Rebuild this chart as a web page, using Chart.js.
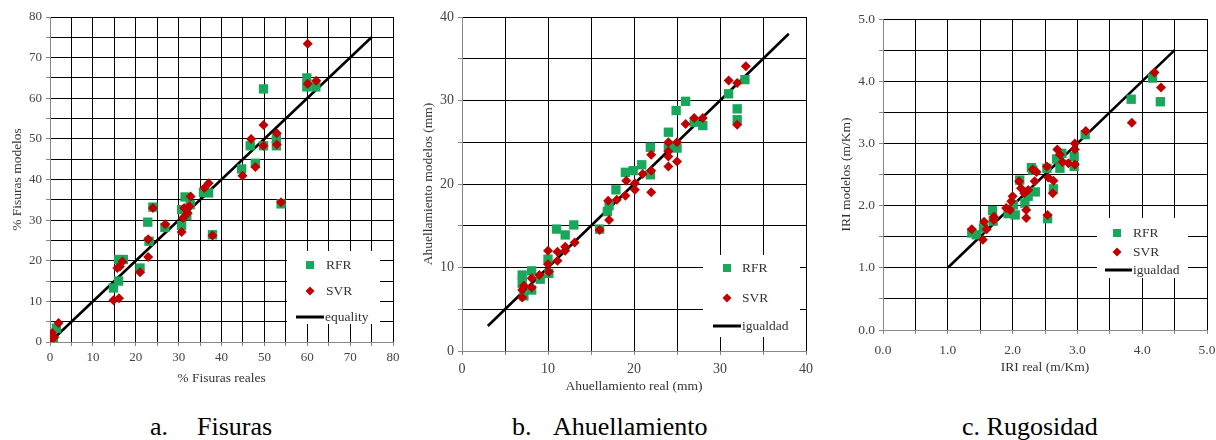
<!DOCTYPE html>
<html>
<head>
<meta charset="utf-8">
<script src="https://cdn.jsdelivr.net/npm/chart.js@4.4.0/dist/chart.umd.min.js"></script>
<style>
body { margin: 0; background: #fff; width: 1216px; height: 440px; position: relative; overflow: hidden; font-family: "Liberation Serif", serif; }
.box { position: absolute; top: 0; }
.cap { position: absolute; top: 414px; font-size: 26px; line-height: 26px; color: #000; white-space: pre; }
</style>
</head>
<body>
<div class="box" style="left:0px"><canvas id="fis" width="410" height="400"></canvas></div>
<div class="box" style="left:410px"><canvas id="ahu" width="410" height="400"></canvas></div>
<div class="box" style="left:820px"><canvas id="iri" width="396" height="400"></canvas></div>
<span class="cap" style="left:150px">a.</span><span class="cap" style="left:197px">Fisuras</span>
<span class="cap" style="left:512px">b.</span><span class="cap" style="left:553px">Ahuellamiento</span>
<span class="cap" style="left:962px">c. Rugosidad</span>
<script>
var green = '#19a75b'
var red = '#c00000'

// a. Fisuras (%)
var fisRfrX = [0, 0.3, 0.8, 1.5, 14.8, 16, 16, 17.1, 21, 22.8, 23.1, 24, 26.8, 30.7, 30.7, 31.5, 31.9, 32.7, 35.8, 37, 37.9, 44.7, 46.7, 47.9, 49.8, 49.8, 52.8, 52.8, 53.9, 59.9, 59.9, 62]
var fisRfrY = [0, 0.8, 0.2, 3.4, 13.3, 15, 20.3, 20.3, 18.2, 29.5, 24.8, 33.2, 28.2, 28.7, 32.6, 35.7, 31.1, 33.8, 36.8, 36.7, 26.4, 42.6, 48.3, 44, 48.3, 62.3, 48.3, 50, 34, 65, 62.8, 62.8]
var fisSvrX = [0, 0, 0.2, 0.5, 1, 2, 14.8, 16.1, 15.7, 16.3, 16.9, 21, 22.9, 22.9, 24, 26.9, 30.7, 31, 31.3, 32.1, 32.5, 32.8, 36, 37, 37.9, 44.9, 46.9, 47.9, 49.8, 49.8, 52.9, 52.9, 53.9, 60.1, 60.1, 62.1]
var fisSvrY = [0.3, 1.8, 1, 2.2, 1.2, 4.7, 10.3, 10.8, 18.2, 18.6, 19.8, 17.2, 20.9, 25.3, 33, 29, 27.1, 30.5, 33, 31.7, 33.4, 35.8, 37.9, 39.1, 26.2, 40.9, 50, 43.1, 53.4, 48.3, 51.4, 48.6, 34.4, 73.4, 63.6, 64.3]
var fisEq = [1, 75]

// b. Ahuellamiento (mm)
var ahuRfrX = [7, 7, 7.2, 8.1, 8.1, 9.1, 10, 10.1, 11, 12, 13, 16, 16.9, 17.1, 17.9, 19, 19.9, 20.9, 21.9, 21.9, 24, 24, 24.9, 25, 26, 27, 28, 31, 32, 32, 32.9]
var ahuRfrY = [9.1, 8.1, 6.6, 9.6, 7.3, 8.6, 11, 9.3, 14.6, 13.9, 15.1, 14.6, 16.7, 17.4, 19.3, 21.4, 21.6, 22.3, 24.4, 21.1, 26.2, 24.5, 28.8, 24.3, 29.9, 27.4, 27, 30.8, 29, 27.7, 32.5]
var ahuSvrX = [7, 7, 7.2, 8.1, 8.1, 9, 10, 10, 10.1, 11.1, 11.1, 12, 12, 13.1, 16, 17, 17.1, 18, 19, 19.1, 20.1, 20.1, 21, 22, 22, 22, 24, 24, 24, 24, 25, 25, 26, 27, 28, 31, 32, 32, 33]
var ahuSvrY = [6.4, 7.3, 7.8, 8.7, 7.6, 9.1, 12, 10.4, 9.5, 10.8, 11.9, 12.5, 12, 13, 14.5, 18, 15.7, 18.1, 18.6, 20.4, 20.1, 19.3, 21.2, 23.5, 21.6, 19, 25, 23.9, 23.3, 22.1, 25, 22.7, 27.2, 27.9, 27.9, 32.4, 32.1, 27.1, 34.1]
var ahuEq = [3, 38]

// c. Rugosidad, IRI (m/Km)
var iriRfrX = [1.37, 1.44, 1.55, 1.69, 1.7, 1.93, 2.01, 2.04, 2.11, 2.19, 2.24, 2.29, 2.31, 2.35, 2.53, 2.54, 2.63, 2.68, 2.73, 2.76, 2.95, 2.95, 3.12, 3.83, 4.16, 4.28]
var iriRfrY = [1.56, 1.53, 1.64, 1.92, 1.75, 1.87, 2.01, 1.85, 2.41, 2.04, 2.15, 2.61, 2.57, 2.22, 2.6, 1.79, 2.27, 2.75, 2.6, 2.84, 2.79, 2.63, 3.14, 3.71, 4.05, 3.67]
var iriSvrX = [1.37, 1.54, 1.56, 1.6, 1.71, 1.71, 1.9, 1.96, 1.98, 2.0, 2.1, 2.13, 2.18, 2.21, 2.21, 2.24, 2.31, 2.34, 2.37, 2.53, 2.55, 2.54, 2.62, 2.63, 2.69, 2.73, 2.77, 2.86, 2.96, 2.96, 2.96, 3.13, 3.84, 4.19, 4.29]
var iriSvrY = [1.62, 1.45, 1.74, 1.62, 1.82, 1.77, 1.96, 1.93, 2.07, 2.15, 2.39, 2.28, 2.2, 1.93, 1.8, 2.25, 2.58, 2.39, 2.54, 2.63, 2.45, 1.85, 2.2, 2.4, 2.9, 2.82, 2.7, 2.68, 3.0, 2.9, 2.66, 3.2, 3.33, 4.14, 3.9]
var iriEq = [1, 4.5]

function pts(xs, ys) {
    return xs.map((x, i) => ({x: x, y: ys[i]}))
}

// white legend box drawn over the grid, like the original
var legendBox = {
    id: 'legendBox',
    afterDatasetsDraw(chart, args, o) {
        var ctx = chart.ctx
        var ds = chart.data.datasets
        ctx.save()
        ctx.fillStyle = '#fff'
        ctx.fillRect(o.box[0], o.box[1], o.box[2], o.box[3])
        ctx.font = '13.5px "Liberation Serif"'
        ctx.textBaseline = 'middle'
        // RFR square
        ctx.fillStyle = green
        ctx.fillRect(o.mx - 4, o.rows[0] - 4, 8, 8)
        // SVR diamond
        ctx.fillStyle = red
        ctx.beginPath()
        ctx.moveTo(o.mx - 4.5, o.rows[1])
        ctx.lineTo(o.mx, o.rows[1] - 4.5)
        ctx.lineTo(o.mx + 4.5, o.rows[1])
        ctx.lineTo(o.mx, o.rows[1] + 4.5)
        ctx.closePath()
        ctx.fill()
        // line
        ctx.strokeStyle = '#000'
        ctx.lineWidth = 3
        ctx.beginPath()
        ctx.moveTo(o.line[0], o.rows[2])
        ctx.lineTo(o.line[1], o.rows[2])
        ctx.stroke()
        ctx.fillStyle = '#333'
        ctx.fillText(ds[1].label, o.tx, o.rows[0])
        ctx.fillText(ds[0].label, o.tx, o.rows[1])
        ctx.fillText(ds[2].label, o.line[1] + 1, o.rows[2])
        ctx.restore()
    }
}

function makeChart(id, o) {
    var tickFont = {family: 'Liberation Serif', size: o.tickSize}
    var titleFont = {family: 'Liberation Serif', size: 13.5}
    var label = function(v) {
        var k = v / o.labelStep
        return Math.abs(k - Math.round(k)) < 1e-6 ? o.fmt(v) : ''
    }
    var axis = function(isX) {
        return {
            type: 'linear',
            min: 0,
            max: o.max,
            afterFit: function(s) {
                if (isX) s.height = o.xH; else s.width = o.yW
                s.paddingLeft = 0; s.paddingRight = 0; s.paddingTop = 0; s.paddingBottom = 0
            },
            ticks: {
                stepSize: o.step, autoSkip: false, maxRotation: 0,
                padding: isX ? o.xTickPad : 4,
                color: '#444', font: tickFont, callback: label
            },
            grid: {color: '#000', lineWidth: 1, tickColor: '#888', tickLength: 4},
            border: {color: '#888'},
            title: {
                display: true,
                text: isX ? o.xTitle : o.yTitle,
                color: '#333',
                font: titleFont,
                padding: isX ? {top: 0, bottom: o.xTitlePad} : {top: o.yTitlePad, bottom: 0}
            }
        }
    }
    return new Chart(document.getElementById(id), {
        type: 'scatter',
        data: {
            datasets: [
                {label: 'SVR', data: pts(o.svr[0], o.svr[1]), pointStyle: 'rectRot', pointRadius: 5,
                 backgroundColor: red, borderColor: red, borderWidth: 0},
                {label: 'RFR', data: pts(o.rfr[0], o.rfr[1]), pointStyle: 'rect', pointRadius: 6.6,
                 backgroundColor: green, borderColor: green, borderWidth: 0},
                {label: o.eqLabel, data: pts(o.eq, o.eq), showLine: true, pointRadius: 0,
                 borderColor: '#000', borderWidth: 2.6}
            ]
        },
        options: {
            responsive: false,
            animation: false,
            layout: {padding: {top: o.padTop, right: o.padRight, left: 0, bottom: 0}},
            scales: {x: axis(true), y: axis(false)},
            plugins: {
                legend: {display: false},
                tooltip: {enabled: false},
                legendBox: o.legend
            }
        },
        plugins: [legendBox]
    })
}

makeChart('fis', {
    rfr: [fisRfrX, fisRfrY], svr: [fisSvrX, fisSvrY], eq: fisEq, eqLabel: 'equality',
    max: 80, step: 5, labelStep: 10, fmt: v => v,
    padTop: 17, padRight: 17, yW: 50, xH: 58, tickSize: 13, xTickPad: 4,
    xTitle: '% Fisuras reales', yTitle: '% Fisuras modelos', xTitlePad: 13, yTitlePad: 9,
    legend: {box: [287, 251, 93, 73], mx: 310, tx: 326, rows: [265, 291, 317], line: [296, 324]}
})

makeChart('ahu', {
    rfr: [ahuRfrX, ahuRfrY], svr: [ahuSvrX, ahuSvrY], eq: ahuEq, eqLabel: 'igualdad',
    max: 40, step: 5, labelStep: 10, fmt: v => v,
    padTop: 17, padRight: 14, yW: 52, xH: 49, tickSize: 14, xTickPad: 6,
    xTitle: 'Ahuellamiento real (mm)', yTitle: 'Ahuellamiento modelos (mm)', xTitlePad: 5, yTitlePad: 10,
    legend: {box: [293, 255, 97, 82], mx: 317, tx: 332, rows: [268, 298, 326], line: [303, 331]}
})

makeChart('iri', {
    rfr: [iriRfrX, iriRfrY], svr: [iriSvrX, iriSvrY], eq: iriEq, eqLabel: 'igualdad',
    max: 5, step: 0.5, labelStep: 1, fmt: v => v.toFixed(1),
    padTop: 19, padRight: 9, yW: 63, xH: 70, tickSize: 13.5, xTickPad: 8,
    xTitle: 'IRI real (m/Km)', yTitle: 'IRI modelos (m/Km)', xTitlePad: 24, yTitlePad: 18,
    legend: {box: [277, 218, 91, 60], mx: 297, tx: 313, rows: [233, 252, 270], line: [285, 312]}
})
</script>
</body>
</html>
